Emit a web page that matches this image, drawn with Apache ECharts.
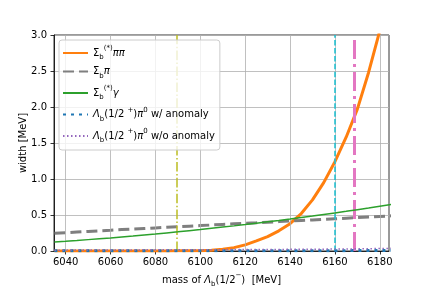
<!DOCTYPE html>
<html><head><meta charset="utf-8">
<script src="https://cdn.jsdelivr.net/npm/echarts@6/dist/echarts.min.js"></script>
<style>html,body{margin:0;padding:0;background:#fff}#c{width:432px;height:288px}</style>
</head><body><div id="c"></div>
<script>
const mass = [6035,6040,6045,6050,6055,6060,6065,6070,6075,6080,6085,6090,6095,6100,6105,6110,6115,6120,6125,6130,6135,6140,6145,6150,6155,6160,6165,6170,6175,6180,6185];
const sigmaStarPiPi = [0,0,0,0,0,0,0,0,0,0,0.001,0.002,0.003,0.005,0.011,0.025,0.047,0.085,0.14,0.20,0.28,0.38,0.52,0.71,0.95,1.24,1.58,1.97,2.48,3.06,3.7];
const sigmaPi = [0.245,0.254,0.263,0.271,0.28,0.288,0.297,0.305,0.313,0.321,0.329,0.337,0.345,0.353,0.361,0.369,0.377,0.385,0.392,0.4,0.408,0.416,0.424,0.432,0.44,0.448,0.456,0.464,0.472,0.48,0.488];
const sigmaStarGamma = [0.125,0.135,0.146,0.158,0.170,0.182,0.195,0.208,0.222,0.236,0.251,0.266,0.282,0.298,0.315,0.332,0.349,0.367,0.386,0.405,0.424,0.444,0.465,0.485,0.507,0.529,0.551,0.574,0.597,0.621,0.645];
const lambdaPiAnomaly = [0.003,0.003,0.003,0.003,0.003,0.003,0.003,0.003,0.003,0.003,0.003,0.003,0.003,0.003,0.003,0.004,0.004,0.004,0.004,0.004,0.004,0.004,0.004,0.005,0.005,0.005,0.005,0.006,0.007,0.008,0.009];
const lambdaPiNoAnomaly = [0.012,0.012,0.013,0.013,0.014,0.014,0.015,0.015,0.016,0.016,0.017,0.017,0.018,0.018,0.019,0.019,0.020,0.020,0.021,0.022,0.022,0.023,0.024,0.025,0.026,0.027,0.028,0.030,0.032,0.034,0.037];
const xTicks = [6040,6060,6080,6100,6120,6140,6160,6180];
const thresholds = [6089.6, 6160.0, 6168.4];

const FONT = 'DejaVu Sans';
const pair = ys => mass.map((m, i) => [m, ys[i]]);
const names = ['Σb(*)ππ','Σbπ','Σb(*)γ','Λb(1/2+)π0 w/ anomaly','Λb(1/2+)π0 w/o anomaly'];
const richNames = {
  'Σb(*)ππ': '{n|Σ}{sub|b}{sup|(*)}{i|ππ}',
  'Σbπ': '{n|Σ}{sub|b}{i|π}',
  'Σb(*)γ': '{n|Σ}{sub|b}{sup|(*)}{i|γ}',
  'Λb(1/2+)π0 w/ anomaly': '{i|Λ}{sub|b}{n|(1/2 }{sup|+}{n|)}{i|π}{sup|0}{n| w/ anomaly}',
  'Λb(1/2+)π0 w/o anomaly': '{i|Λ}{sub|b}{n|(1/2 }{sup|+}{n|)}{i|π}{sup|0}{n| w/o anomaly}'
};
const rich = {
  n: {fontFamily: FONT, fontSize: 10, color: '#000', lineHeight: 16},
  i: {fontFamily: FONT, fontSize: 10, fontStyle: 'italic', color: '#000', lineHeight: 16},
  sub: {fontFamily: FONT, fontSize: 7, color: '#000', lineHeight: 10, verticalAlign: 'bottom'},
  sup: {fontFamily: FONT, fontSize: 7, color: '#000', lineHeight: 10, verticalAlign: 'top'}
};
const colors = ['#ff7f0e','#7f7f7f','#2ca02c','#1f77b4','#9467bd'];
const styles = [
  {width: 3, type: 'solid'},
  {width: 3, type: [11, 5]},
  {width: 1.5, type: 'solid'},
  {width: 3, type: [3, 5]},
  {width: 1.5, type: [1.5, 2.5]}
];
const datas = [sigmaStarPiPi, sigmaPi, sigmaStarGamma, lambdaPiAnomaly, lambdaPiNoAnomaly];
const vColors = ['#bcbd22', '#17becf', '#e377c2'];
const vStyles = [
  {width: 1.5, type: [9.6, 2.4, 1.5, 2.4]},
  {width: 1.5, type: [5.5, 2.4]},
  {width: 3, type: [19, 5, 3, 5]}
];

const series = [{
  type: 'line', name: 'grid', data: [], z: 1, silent: true,
  markLine: {silent: true, symbol: ['none','none'], label: {show: false}, animation: false,
    lineStyle: {color: '#b0b0b0', width: 0.8, type: 'solid'},
    emphasis: {disabled: true},
    data: xTicks.map(v => ({xAxis: v}))}
}];
datas.forEach((d, k) => series.push({
  type: 'line', name: names[k], data: pair(d), showSymbol: false, symbol: 'none',
  lineStyle: {color: colors[k], width: styles[k].width, type: styles[k].type},
  itemStyle: {color: colors[k]}, z: 3 + k, clip: true, animation: false
}));
thresholds.forEach((t, k) => series.push({
  type: 'line', name: 'th' + k, data: [], z: 9,
  markLine: {silent: true, symbol: ['none','none'], label: {show: false}, animation: false,
    lineStyle: {color: vColors[k], width: vStyles[k].width, type: vStyles[k].type},
    emphasis: {disabled: true},
    data: [{xAxis: t}]}
}));

const chart = echarts.init(document.getElementById('c'), null, {renderer: 'canvas'});
chart.setOption({
  animation: false,
  grid: {left: 54, right: 43, top: 35, bottom: 37, show: true, borderColor: '#000', borderWidth: 0.8,
    backgroundColor: 'transparent', containLabel: false, outerBoundsMode: 'none'},
  xAxis: {
    type: 'value', min: 6034.8, max: 6184.1,
    axisLine: {lineStyle: {color: '#000', width: 0.8}},
    axisTick: {show: true, length: 3.5, lineStyle: {color: '#000', width: 0.8}, customValues: xTicks},
    axisLabel: {customValues: xTicks, color: '#000', fontFamily: FONT, fontSize: 10, margin: 6, formatter: v => String(v)},
    splitLine: {show: false},
    name: '{n|mass of }{i|Λ}{sub|b}{n|(1/2}{sup|−}{n|)  [MeV]}',
    nameLocation: 'middle', nameGap: 21, nameMoveOverlap: false,
    nameTextStyle: {rich: rich}
  },
  yAxis: {
    type: 'value', min: 0, max: 3, interval: 0.5,
    axisLine: {show: true, lineStyle: {color: '#000', width: 0.8}},
    axisTick: {show: true, length: 3.5, lineStyle: {color: '#000', width: 0.8}},
    axisLabel: {color: '#000', fontFamily: FONT, fontSize: 10, margin: 7, formatter: v => v.toFixed(1)},
    splitLine: {show: true, lineStyle: {color: '#b0b0b0', width: 0.8}},
    name: 'width [MeV]', nameLocation: 'middle', nameGap: 26, nameMoveOverlap: false,
    nameTextStyle: {color: '#000', fontFamily: FONT, fontSize: 10}
  },
  legend: {
    data: names, orient: 'vertical', left: 59, top: 40,
    backgroundColor: 'rgba(255,255,255,0.8)', borderColor: '#cccccc', borderWidth: 1, borderRadius: 3,
    padding: [5, 5, 6, 3], itemWidth: 25, itemHeight: 10, itemGap: 5.5,
    itemStyle: {color: 'transparent', borderWidth: 0, opacity: 0},
    formatter: name => richNames[name],
    textStyle: {rich: rich, fontFamily: FONT, fontSize: 10, color: '#000'},
    selectedMode: false, z: 20
  },
  series: series
});
</script></body></html>
